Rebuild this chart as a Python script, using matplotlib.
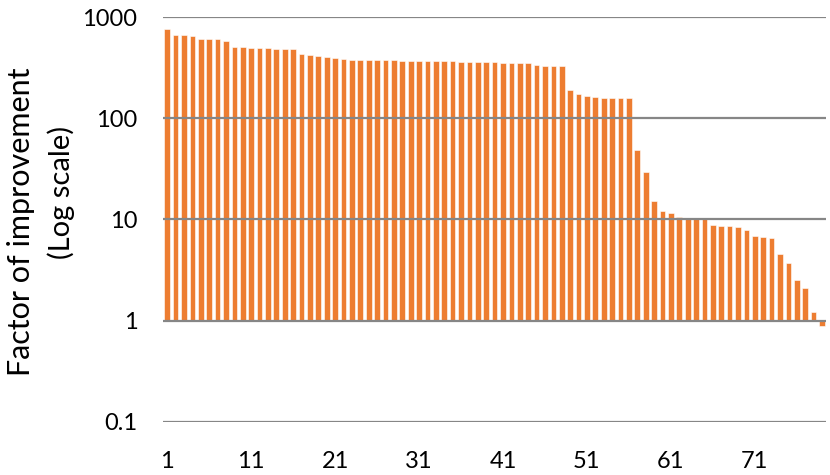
import numpy as np
from matplotlib import pyplot as plt

# factor of improvement per case, sorted
values = [
    769, 665, 660, 656, 603, 603, 600, 573, 511, 503,
    495, 492, 492, 488, 481, 481, 430, 420, 413, 404,
    395, 389, 377, 377, 375, 375, 372, 372, 370, 370,
    370, 370, 368, 368, 368, 361, 358, 358,
    357, 357, 355, 352, 352, 350, 332, 330, 330, 327,
    192, 172, 165, 163, 160, 160, 157, 157,
    48.4, 29.4, 15.2, 12.2, 11.5, 10.7, 10.3, 10.3, 10.2, 8.8,
    8.6, 8.6, 8.5, 7.86, 6.81, 6.66, 6.55, 4.59, 3.69, 2.54, 2.12, 1.23, 0.88,
]
case_ids = list(range(1, len(values) + 1))
xtick_labels = ["1", "11", "21", "31", "41", "51", "61", "71"]
ytick_vals = [0.1, 1, 10, 100, 1000]
ytick_labels = ["0.1", "1", "10", "100", "1000"]

plt.rcParams["font.family"] = ["Lato", "DejaVu Sans"]

fig = plt.figure(figsize=(8.3, 4.75), dpi=100)
ax = fig.add_axes([0.1964, 0.1116, 0.799, 0.8526])

vals = np.array(values, dtype=float)
ax.bar(case_ids, vals - 1, bottom=1, width=0.68, color="#ED7D31",
       edgecolor="white", linewidth=0.4, zorder=2)

ax.set_yscale("log")
ax.set_ylim(0.1, 1000)
ax.set_xlim(0.5, len(values) + 0.5)

# Excel draws the gridlines over the bars here
for v in ytick_vals:
    ax.axhline(v, color="#868686", linewidth=1.6, zorder=3)

ax.set_yticks(ytick_vals)
ax.set_yticklabels(ytick_labels)
ax.minorticks_off()
ax.set_xticks([int(t) for t in xtick_labels])
ax.set_xticklabels(xtick_labels)
ax.tick_params(axis="both", length=0, labelsize=17, labelcolor="black")
ax.tick_params(axis="y", pad=18.5)
ax.tick_params(axis="x", pad=21)

for s in ax.spines.values():
    s.set_visible(False)

# axis title, two lines placed as in the reference
fig.text(0.0253, 0.533, "Factor of improvement", rotation=90, fontsize=22,
         ha="center", va="center")
fig.text(0.0735, 0.594, "(Log scale)", rotation=90, fontsize=21,
         ha="center", va="center")

fig.savefig("out.png", dpi=100)
